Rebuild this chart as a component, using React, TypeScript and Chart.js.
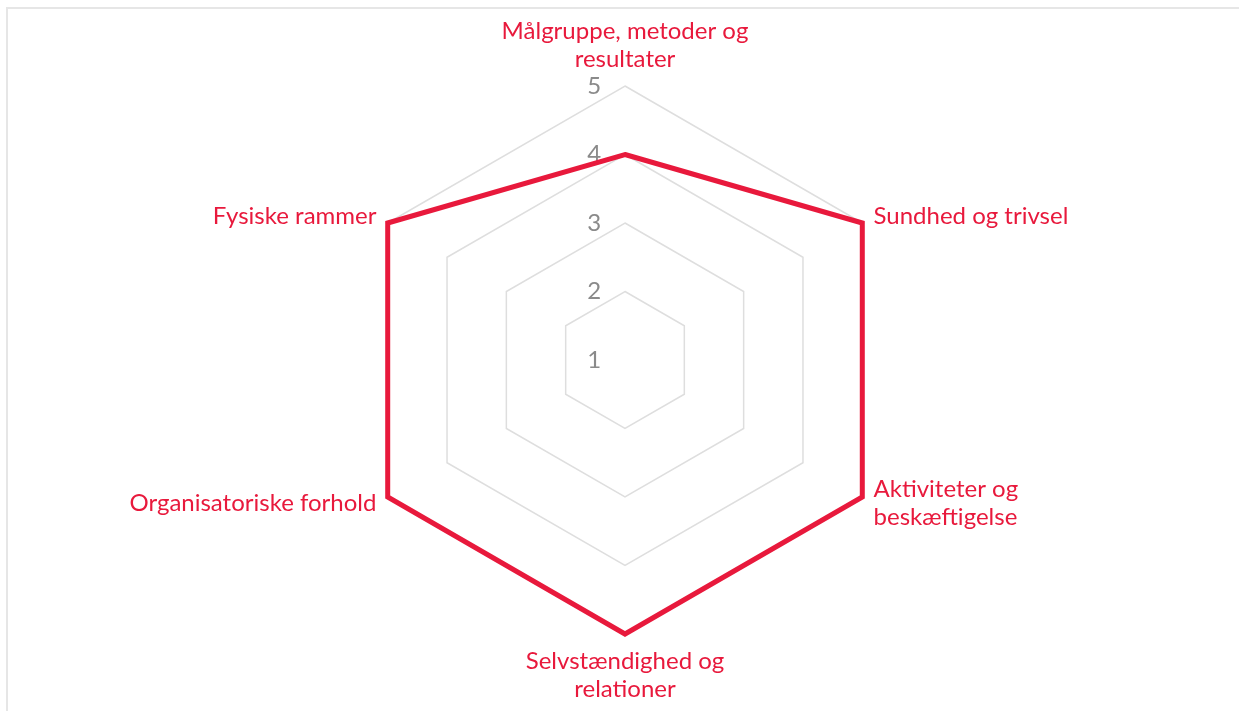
import React, { useEffect, useRef } from "react";
import { Chart, registerables } from "chart.js";

Chart.register(...registerables);

const categories: (string | string[])[] = [
  ["Målgruppe, metoder og", "resultater"],
  "Sundhed og trivsel",
  ["Aktiviteter og", "beskæftigelse"],
  ["Selvstændighed og", "relationer"],
  "Organisatoriske forhold",
  "Fysiske rammer",
];
const scores: number[] = [4, 5, 5, 5, 5, 5];
const tickValues: number[] = [1, 2, 3, 4, 5];

const RED = "#e8193c";
const GRAY = "#8a8a8a";
const FONT = "Lato";
const LABEL_SIZE = 24;
const LINE_H = 28;
const LABEL_PAD = 13;
const TICK_PAD = "          ";

const labelPlugin = {
  id: "customLabels",
  beforeDatasetsDraw(chart: any) {
    const scale = chart.scales.r;
    const ctx = chart.ctx;
    ctx.save();
    // first tick label (Chart.js skips the label at the minimum)
    ctx.font = `${LABEL_SIZE}px ${FONT}`;
    ctx.fillStyle = GRAY;
    ctx.textAlign = "center";
    ctx.textBaseline = "middle";
    const first = tickValues[0];
    const d = scale.getDistanceFromCenterForValue(first);
    ctx.fillText(String(first) + TICK_PAD, scale.xCenter, scale.yCenter - d);
    // point labels
    ctx.fillStyle = RED;
    categories.forEach((cat, i) => {
      const lines = Array.isArray(cat) ? cat : [cat];
      const p = scale.getPointPosition(i, scale.drawingArea + LABEL_PAD);
      const dx = p.x - scale.xCenter;
      const dy = p.y - scale.yCenter;
      const h = lines.length * LINE_H;
      let top: number;
      if (Math.abs(dx) < 1) {
        ctx.textAlign = "center";
        top = dy < 0 ? p.y - h : p.y;
      } else {
        ctx.textAlign = dx > 0 ? "left" : "right";
        top = p.y - h / 2;
      }
      lines.forEach((l, j) => ctx.fillText(l, p.x, top + LINE_H * (j + 0.5)));
    });
    ctx.restore();
  },
};

export default function App() {
  const ref = useRef<HTMLCanvasElement | null>(null);
  useEffect(() => {
    document.documentElement.style.overflow = "hidden";
    document.body.style.overflow = "hidden";
    const chart = new Chart(ref.current!, {
      type: "radar",
      data: {
        labels: categories,
        datasets: [
          {
            data: scores,
            borderColor: RED,
            borderWidth: 5,
            backgroundColor: "rgba(0,0,0,0)",
            fill: false,
            pointRadius: 0,
            pointHoverRadius: 0,
            borderJoinStyle: "miter",
            tension: 0,
          },
        ],
      },
      options: {
        animation: false,
        responsive: true,
        maintainAspectRatio: false,
        layout: { padding: { top: 0, bottom: 0, left: 4 } },
        plugins: { legend: { display: false }, tooltip: { enabled: false } },
        scales: {
          r: {
            min: tickValues[0],
            max: tickValues[tickValues.length - 1],
            angleLines: { display: false },
            grid: { color: "#dedede", lineWidth: 1.5 },
            ticks: {
              stepSize: 1,
              showLabelBackdrop: false,
              color: GRAY,
              font: { family: FONT, size: LABEL_SIZE },
              callback: (v: any) => String(v) + TICK_PAD,
            },
            pointLabels: {
              color: "rgba(0,0,0,0)",
              font: { family: FONT, size: LABEL_SIZE, lineHeight: LINE_H + "px" },
              padding: LABEL_PAD - 6,
            },
          },
        },
      },
      plugins: [labelPlugin],
    });
    return () => chart.destroy();
  }, []);
  return (
    <div
      style={{
        position: "fixed",
        left: 0,
        top: 0,
        width: 1239,
        height: 711,
        overflow: "hidden",
        background: "#ffffff",
      }}
    >
      <div
        style={{
          position: "absolute",
          left: 6,
          top: 7,
          width: 1300,
          height: 720,
          borderTop: "2px solid #e6e6e6",
          borderLeft: "2px solid #e6e6e6",
          boxSizing: "border-box",
        }}
      >
        <div style={{ position: "relative", width: 1231, height: 702 }}>
          <canvas ref={ref} />
        </div>
      </div>
    </div>
  );
}
